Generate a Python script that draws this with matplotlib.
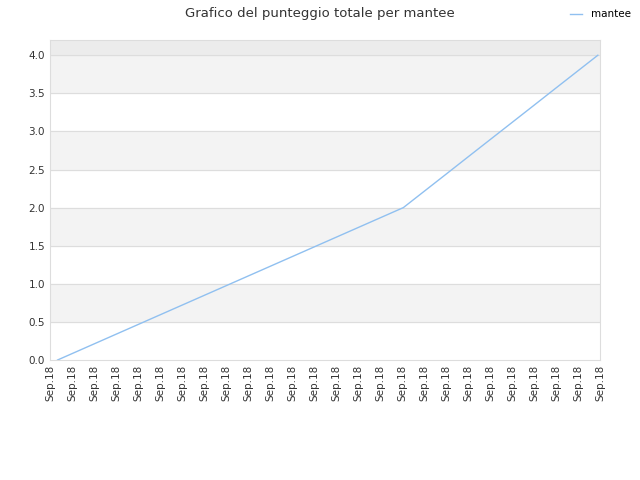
import matplotlib.pyplot as plt
import numpy as np

scores = [0.0, 0.125, 0.25, 0.375, 0.5, 0.625, 0.75, 0.875, 1.0, 1.125, 1.25, 1.375,
          1.5, 1.625, 1.75, 1.875, 2.0, 2.222, 2.444, 2.667, 2.889, 3.111, 3.333,
          3.556, 3.778, 4.0]
tick_labels = ['Sep.18'] * 26

fig = plt.figure(figsize=(6.4, 4.8), dpi=100)
ax = fig.add_axes([50 / 640, 120 / 480, 550 / 640, 320 / 480])

x = np.arange(len(scores))
ax.plot(x, scores, color='#90c0f0', linewidth=1, label='mantee')

ax.set_xlim(-0.35, 25.1)
ax.set_ylim(0, 4.2)
for lo in [0.5, 1.5, 2.5, 3.5]:
    ax.axhspan(lo, lo + 0.5, color='#f3f3f3', zorder=0)
ax.axhspan(4.0, 4.2, color='#ececec', zorder=0)
for y in np.arange(0.5, 4.01, 0.5):
    ax.axhline(y, color='#dddddd', linewidth=0.8, zorder=0.5)

ax.set_yticks(np.arange(0, 4.01, 0.5))
ax.set_yticklabels([f'{v:.1f}' for v in np.arange(0, 4.01, 0.5)], fontsize=7.5, color='#333333')
ticks = np.linspace(-0.35, 25.1, 26)
ax.set_xticks(ticks)
ax.set_xticklabels(tick_labels, rotation=90, fontsize=7.5, color='#333333')
ax.tick_params(length=0)
for s in ax.spines.values():
    s.set_color('#dddddd')

fig.suptitle('Grafico del punteggio totale per mantee', fontsize=9.5, color='#333333', y=0.985)
fig.legend(loc='upper right', frameon=False, fontsize=7.5, bbox_to_anchor=(1.0, 1.0), handlelength=1.2)

fig.savefig('out.png')
